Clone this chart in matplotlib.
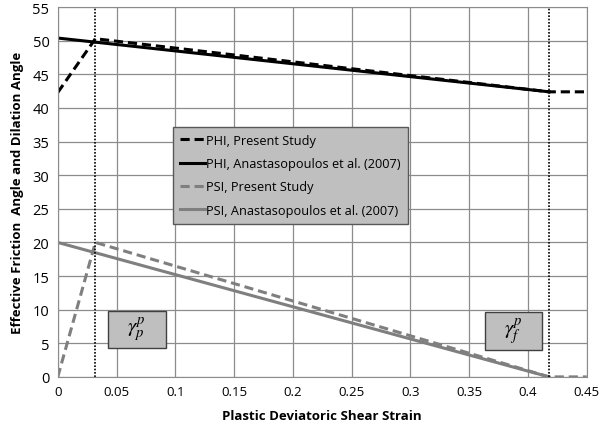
import matplotlib.pyplot as plt
from matplotlib.patches import Rectangle

# strain breakpoints
gamma_peak = 0.032
gamma_final = 0.418

phi_present_x = [0.0, gamma_peak, gamma_final, 0.45]
phi_present_y = [42.3, 50.3, 42.4, 42.4]
phi_anast_x = [0.0, gamma_final]
phi_anast_y = [50.4, 42.4]
psi_present_x = [0.0, gamma_peak, gamma_final, 0.45]
psi_present_y = [0.0, 20.0, 0.0, 0.0]
psi_anast_x = [0.0, gamma_final]
psi_anast_y = [20.0, 0.0]

xticks = [0, 0.05, 0.1, 0.15, 0.2, 0.25, 0.3, 0.35, 0.4, 0.45]
xtick_labels = ["0", "0.05", "0.1", "0.15", "0.2", "0.25", "0.3", "0.35", "0.4", "0.45"]
yticks = list(range(0, 56, 5))

# label boxes: (x0, y0, width, height, text)
marker_boxes = [
    (0.0425, 4.3, 0.0495, 5.5, r"$\gamma_p^p$"),
    (0.3632, 4.0, 0.0485, 5.7, r"$\gamma_f^p$"),
]

plt.rcParams["font.family"] = ["Open Sans", "DejaVu Sans"]
plt.rcParams["mathtext.fontset"] = "stix"

fig = plt.figure(figsize=(6.08, 4.27), dpi=100)
ax = fig.add_axes([0.095, 0.115, 0.87, 0.866])

ax.plot(phi_present_x, phi_present_y, color="black", linewidth=2.2, linestyle=(0, (3, 1.6)),
        label="PHI, Present Study")
ax.plot(phi_anast_x, phi_anast_y, color="black", linewidth=2.2, label="PHI, Anastasopoulos et al. (2007)")
ax.plot(psi_present_x, psi_present_y, color="#7f7f7f", linewidth=2.2, linestyle=(0, (3, 1.6)),
        label="PSI, Present Study")
ax.plot(psi_anast_x, psi_anast_y, color="#7f7f7f", linewidth=2.2, label="PSI, Anastasopoulos et al. (2007)")

ax.axvline(gamma_peak, color="black", linewidth=1.2, linestyle=(0, (1, 1)))
ax.axvline(gamma_final, color="black", linewidth=1.2, linestyle=(0, (1, 1)))

ax.set_xlim(0, 0.45)
ax.set_ylim(0, 55)
ax.set_xticks(xticks)
ax.set_xticklabels(xtick_labels)
ax.set_yticks(yticks)
ax.tick_params(labelsize=9.5, length=0, pad=6)
ax.tick_params(axis="y", labelsize=10.5)
ax.grid(color="#8c8c8c", linewidth=0.9)
ax.set_axisbelow(True)
for s in ax.spines.values():
    s.set_color("#8c8c8c")

ax.set_xlabel("Plastic Deviatoric Shear Strain", fontsize=9.5, fontweight="bold", labelpad=8)
ax.set_ylabel("Effective Friction  Angle and Dilation Angle", fontsize=9.5, fontweight="bold", labelpad=6)

leg = ax.legend(loc="upper left", bbox_to_anchor=(0.217, 0.676), fontsize=9.2, handlelength=2.0,
                handletextpad=0.1, labelspacing=0.8, fancybox=False, framealpha=1,
                facecolor="#bfbfbf", edgecolor="#595959", borderpad=0.55, borderaxespad=0)
leg.get_frame().set_linewidth(1.0)

for x0, y0, w, h, label in marker_boxes:
    ax.add_patch(Rectangle((x0, y0), w, h, facecolor="#bfbfbf", edgecolor="#404040",
                           linewidth=1.0, zorder=5))
    ax.text(x0 + w / 2, y0 + h / 2, label, fontsize=15, ha="center", va="center", zorder=6)

fig.savefig("out.png", dpi=100)
